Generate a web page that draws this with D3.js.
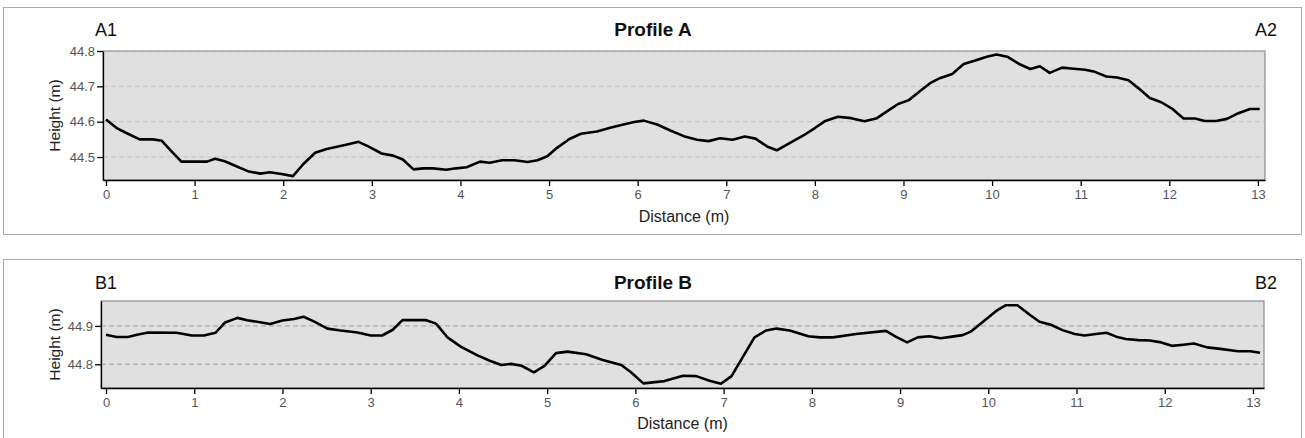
<!DOCTYPE html>
<html>
<head>
<meta charset="utf-8">
<script src="https://cdn.jsdelivr.net/npm/d3@7"></script>
<style>
  body { margin: 0; background: #fff; }
  text { font-family: "Liberation Sans", Arial, sans-serif; }
  .axis path, .axis line { stroke: #000; stroke-width: 1.3px; }
  .axis text { fill: #555; font-size: 13px; }
</style>
</head>
<body>
<script>
// Profile A: [distance (m), height (m)]
const profileA = [
  [0,44.606],[0.12,44.582],[0.23,44.568],[0.38,44.55],[0.53,44.55],[0.63,44.546],[0.74,44.516],
  [0.85,44.487],[1.14,44.487],[1.23,44.495],[1.34,44.488],[1.47,44.474],[1.6,44.46],[1.74,44.453],
  [1.85,44.457],[1.98,44.452],[2.11,44.446],[2.23,44.481],[2.36,44.512],[2.49,44.523],[2.71,44.535],
  [2.85,44.543],[2.96,44.53],[3.11,44.51],[3.24,44.504],[3.35,44.493],[3.47,44.465],[3.58,44.468],
  [3.69,44.468],[3.84,44.464],[3.95,44.468],[4.07,44.471],[4.22,44.487],[4.33,44.484],[4.47,44.491],
  [4.61,44.491],[4.76,44.486],[4.87,44.491],[4.98,44.502],[5.09,44.526],[5.23,44.551],[5.36,44.566],
  [5.54,44.572],[5.69,44.583],[5.84,44.592],[5.96,44.599],[6.07,44.603],[6.22,44.592],[6.37,44.575],
  [6.52,44.559],[6.67,44.549],[6.8,44.545],[6.93,44.553],[7.07,44.549],[7.21,44.558],[7.33,44.552],
  [7.46,44.53],[7.57,44.519],[7.72,44.54],[7.87,44.561],[8.0,44.582],[8.11,44.601],[8.26,44.614],
  [8.41,44.61],[8.56,44.601],[8.7,44.61],[8.83,44.632],[8.94,44.65],[9.06,44.661],[9.17,44.683],
  [9.3,44.709],[9.41,44.723],[9.55,44.735],[9.68,44.763],[9.81,44.773],[9.94,44.784],[10.05,44.79],
  [10.17,44.784],[10.3,44.764],[10.43,44.749],[10.54,44.757],[10.65,44.738],[10.79,44.753],[10.92,44.75],
  [11.05,44.747],[11.16,44.741],[11.29,44.728],[11.41,44.725],[11.54,44.717],[11.65,44.695],[11.78,44.667],
  [11.91,44.655],[12.03,44.637],[12.16,44.609],[12.29,44.609],[12.4,44.602],[12.53,44.602],[12.65,44.608],
  [12.78,44.624],[12.91,44.636],[13.02,44.636]
];

// Profile B: [distance (m), height (m)]
const profileB = [
  [0,44.877],[0.12,44.871],[0.25,44.871],[0.35,44.877],[0.48,44.883],[0.8,44.882],[0.97,44.875],
  [1.11,44.875],[1.24,44.882],[1.35,44.909],[1.49,44.921],[1.6,44.915],[1.73,44.91],[1.86,44.905],
  [2.0,44.914],[2.13,44.918],[2.24,44.924],[2.36,44.911],[2.51,44.893],[2.66,44.888],[2.85,44.883],
  [3.0,44.875],[3.13,44.875],[3.25,44.89],[3.36,44.915],[3.63,44.915],[3.74,44.906],[3.87,44.87],
  [4.02,44.846],[4.21,44.823],[4.35,44.809],[4.48,44.798],[4.59,44.801],[4.71,44.796],[4.85,44.779],
  [4.97,44.796],[5.1,44.829],[5.23,44.833],[5.44,44.826],[5.63,44.811],[5.84,44.798],[5.95,44.779],
  [6.09,44.75],[6.33,44.756],[6.54,44.77],[6.69,44.769],[6.84,44.757],[6.97,44.749],[7.09,44.769],
  [7.22,44.82],[7.35,44.87],[7.48,44.888],[7.6,44.893],[7.75,44.888],[7.96,44.873],[8.09,44.87],
  [8.24,44.87],[8.5,44.879],[8.84,44.887],[8.95,44.872],[9.08,44.857],[9.2,44.87],[9.33,44.873],
  [9.46,44.868],[9.59,44.872],[9.71,44.876],[9.8,44.885],[9.94,44.911],[10.09,44.939],[10.2,44.954],
  [10.33,44.954],[10.47,44.929],[10.58,44.911],[10.71,44.903],[10.84,44.889],[10.98,44.879],[11.09,44.875],
  [11.22,44.879],[11.34,44.882],[11.45,44.872],[11.56,44.866],[11.7,44.863],[11.83,44.862],[11.96,44.857],
  [12.08,44.848],[12.21,44.851],[12.33,44.854],[12.48,44.844],[12.63,44.84],[12.83,44.834],[12.97,44.834],
  [13.08,44.83]
];

// tick values
const distTicks = d3.range(0, 14);
const heightTicksA = [44.5, 44.6, 44.7, 44.8];
const heightTicksB = [44.8, 44.9];

const W = 1305, H = 438;

const svg = d3.select("body").append("svg")
    .attr("width", W)
    .attr("height", H);

// one panel = box + titles + plot
function drawProfile(p) {
    const g = svg.append("g");

    // outer box
    g.append("rect")
        .attr("x", 3.5).attr("y", p.boxTop + 0.5)
        .attr("width", 1298).attr("height", p.boxHeight)
        .attr("fill", "#fff")
        .attr("stroke", "#aaa");

    const x = d3.scaleLinear().domain(p.xDomain).range([p.left, p.right]);
    const y = d3.scaleLinear().domain(p.yDomain).range([p.bottom, p.top]);

    // plot background
    g.append("rect")
        .attr("x", p.left).attr("y", p.top)
        .attr("width", p.right - p.left).attr("height", p.bottom - p.top)
        .attr("fill", "#e0e0e0")
        .attr("stroke", "#8a8a8a")
        .attr("stroke-width", 1.2);

    // dashed grid
    g.append("g")
      .selectAll("line")
        .data(p.yTicks)
      .enter().append("line")
        .attr("x1", p.left).attr("x2", p.right)
        .attr("y1", d => y(d)).attr("y2", d => y(d))
        .attr("stroke", p.gridColor)
        .attr("stroke-dasharray", "5,3");

    // profile line
    g.append("path")
        .datum(p.data)
        .attr("fill", "none")
        .attr("stroke", "#000")
        .attr("stroke-width", 2.6)
        .attr("stroke-linejoin", "round")
        .attr("d", d3.line().x(d => x(d[0])).y(d => y(d[1])));

    // axes
    g.append("g")
        .attr("class", "axis")
        .attr("transform", "translate(0," + p.bottom + ")")
        .call(d3.axisBottom(x).tickValues(distTicks).tickSize(6).tickSizeOuter(0).tickPadding(4));

    g.append("g")
        .attr("class", "axis")
        .attr("transform", "translate(" + p.left + ",0)")
        .call(d3.axisLeft(y).tickValues(p.yTicks).tickFormat(d3.format(".1f")).tickSize(6).tickSizeOuter(0).tickPadding(2));

    // labels
    g.append("text")
        .attr("x", 95).attr("y", p.titleY)
        .style("font-size", "18px").style("fill", "#111")
        .text(p.startLabel);

    g.append("text")
        .attr("x", 1277).attr("y", p.titleY)
        .attr("text-anchor", "end")
        .style("font-size", "18px").style("fill", "#111")
        .text(p.endLabel);

    g.append("text")
        .attr("x", 653).attr("y", p.titleY)
        .attr("text-anchor", "middle")
        .style("font-size", "19px").style("font-weight", "bold").style("fill", "#111")
        .text(p.title);

    g.append("text")
        .attr("x", (p.left + p.right) / 2).attr("y", p.xLabelY)
        .attr("text-anchor", "middle")
        .style("font-size", "16px").style("fill", "#222")
        .text("Distance (m)");

    g.append("text")
        .attr("transform", "translate(60," + (p.top + p.bottom) / 2 + ") rotate(-90)")
        .attr("text-anchor", "middle")
        .style("font-size", "15.5px").style("fill", "#222")
        .text("Height (m)");
}

drawProfile({
    data: profileA, title: "Profile A", startLabel: "A1", endLabel: "A2",
    boxTop: 7, boxHeight: 227, titleY: 36,
    left: 103, right: 1265, top: 51, bottom: 180,
    xDomain: [-0.034, 13.08], yDomain: [44.435, 44.8],
    yTicks: heightTicksA, gridColor: "#c2c2c2", xLabelY: 222
});

drawProfile({
    data: profileB, title: "Profile B", startLabel: "B1", endLabel: "B2",
    boxTop: 259, boxHeight: 190, titleY: 289,
    left: 101, right: 1264, top: 301, bottom: 388,
    xDomain: [-0.057, 13.125], yDomain: [44.738, 44.965],
    yTicks: heightTicksB, gridColor: "#a0a0a0", xLabelY: 429
});
</script>
</body>
</html>
